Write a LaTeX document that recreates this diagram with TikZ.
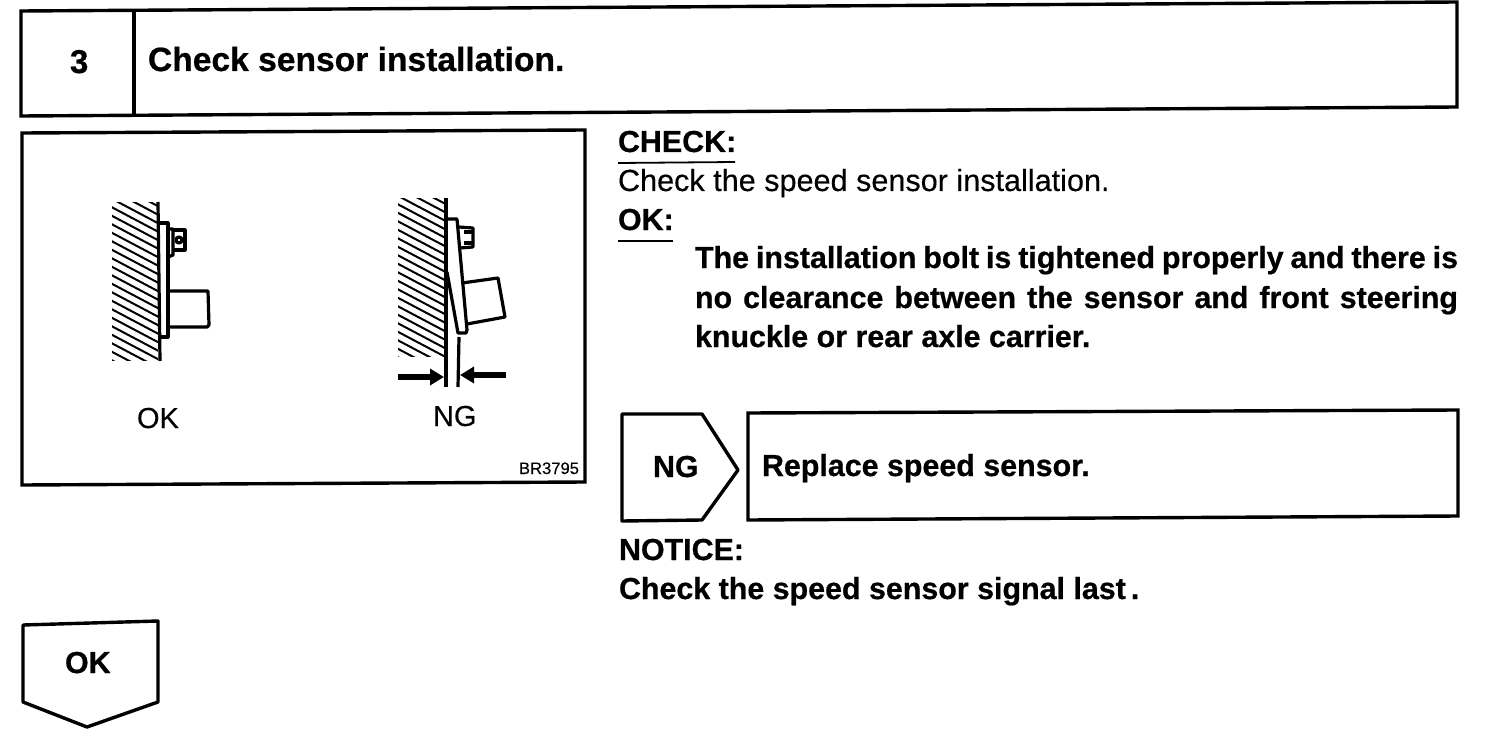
\documentclass[tikz,border=0pt]{standalone}
\usepackage{fontspec}
\setmainfont{Liberation Sans}[UprightFeatures={FakeBold=0.25},BoldFeatures={FakeBold=0.6}]
\usetikzlibrary{arrows.meta}
\tikzset{
  x=0.5pt,y=-0.5pt,
  frame/.style={draw=black,line width=1.7pt,line join=miter},
  rounded frame/.style={draw=black,line width=1.7pt,line join=round},
  thin part/.style={draw=black,line width=1.6pt,line join=round},
  hatch/.style={draw=black,line width=1pt},
  lbl/.style={anchor=base west,inner sep=0pt,outer sep=0pt,text=black},
  boldtxt/.style={lbl,font=\fontsize{15.2}{18}\selectfont\bfseries},
  regtxt/.style={lbl,font=\fontsize{15.3}{18}\selectfont},
  figtxt/.style={lbl,font=\fontsize{14.5}{18}\selectfont},
  arrowbar/.style={draw=black,line width=2.6pt,-{Triangle[length=7pt,width=8pt]}}
}
\begin{document}
\begin{tikzpicture}
\useasboundingbox (0,0) rectangle (1504,738);
\fill[white] (0,0) rectangle (1504,738);
% header
\draw[frame] (21,11) -- (1457,2) -- (1457,107) -- (21,116) -- cycle;
\draw[frame] (134,10) -- (134,115);
\node[lbl,font=\fontsize{16.5}{18}\selectfont\bfseries] (num) at (70,73) {3};
\node[lbl,font=\fontsize{16.8}{18}\selectfont\bfseries] (title) at (148,71) {Check sensor installation.};
% figure frame
\draw[frame] (22,133) -- (585,130) -- (585,482) -- (22,485) -- cycle;
% left hatch
\begin{scope}
\clip (112,202) rectangle (158,360);
\foreach \y in {150,158.5,...,360} \draw[hatch] (100,\y) -- (170,\y+37);
\end{scope}
\draw[thin part] (158,202) -- (160,361);
\draw[thin part] (159,223) -- (168,223) -- (168,337) -- (160,337);
\draw[thin part] (168,229) -- (173,229) -- (173,255) -- (168,257);
\draw[thin part] (173,230) -- (185,230) -- (185,250) -- (173,250);
\draw[thin part] (179,240) circle (3);
\draw[thin part] (168,291) -- (208,291) -- (209,325) -- (207,327) -- (168,327);
% right hatch
\begin{scope}
\clip (398,198) rectangle (445,356);
\foreach \y in {147,155.5,...,360} \draw[hatch] (386,\y) -- (456,\y+37);
\end{scope}
\draw[thin part] (446,198) -- (446,387);
\draw[thin part] (446,219) -- (457,219) -- (467,330) -- (466,333) -- (458,333) -- (447,272);
\draw[thin part] (459,227) -- (473,228) -- (473,247) -- (460,248);
\draw[thin part] (464,232) -- (473,232);
\draw[thin part] (464,243) -- (473,243);
\draw[thin part] (462,283) -- (498,278) -- (505,317) -- (467,324);
\draw[thin part] (459,337) -- (458,387);
\coordinate (al) at (398,377);
\coordinate (alt) at (444,377);
\coordinate (ar) at (506,375);
\coordinate (art) at (460,375);
\draw[arrowbar] (al) -- (alt);
\draw[arrowbar] (ar) -- (art);
\node[figtxt] (okfig) at (137,428) {OK};
\node[figtxt] (ngfig) at (433,426) {NG};
\node[lbl,font=\fontsize{8.3}{9}\selectfont] (code) at (519,474) {BR3795};
% right text
\node[boldtxt] (check) at (618,152) {CHECK:};
\draw[line width=0.9pt] (618,163) -- (735,162);
\node[regtxt] (ctext) at (618,191) {Check the speed sensor installation.};
\node[boldtxt] (okh) at (618,230) {OK:};
\draw[line width=0.9pt] (618,241) -- (673,241);
\node[boldtxt] (l1) at (695,268) {\makebox[381.5pt][s]{The installation bolt is tightened properly and there is}};
\node[boldtxt] (l2) at (695,308) {\makebox[381.5pt][s]{no clearance between the sensor and front steering}};
\node[boldtxt] (l3) at (695,347) {knuckle or rear axle carrier.};
% NG
\draw[rounded frame] (622,414) -- (702,414) -- (738,470) -- (702,520) -- (622,521) -- cycle;
\node[boldtxt] (ng) at (653,477) {NG};
\draw[frame] (748,413) -- (1458,410) -- (1458,516) -- (748,520) -- cycle;
\node[boldtxt] (rep) at (762,476) {Replace speed sensor.};
\node[boldtxt] (notice) at (619,560) {NOTICE:};
\node[boldtxt] (nt) at (619,599) {Check the speed sensor signal last\kern2.5pt.};
% OK
\draw[rounded frame] (23,625) -- (158,621) -- (158,702) -- (87,727) -- (23,702) -- cycle;
\node[boldtxt] (ok) at (65,673) {OK};
\end{tikzpicture}
\end{document}
